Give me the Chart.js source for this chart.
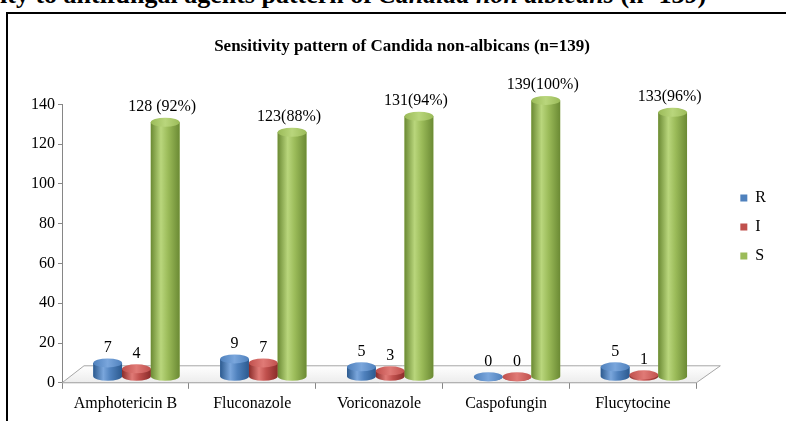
<!DOCTYPE html>
<html>
<head>
<meta charset="utf-8">
<script src="https://cdn.jsdelivr.net/npm/chart.js@4/dist/chart.umd.min.js"></script>
<style>
  html, body { margin:0; padding:0; background:#fff; width:786px; height:421px; overflow:hidden; position:relative; font-family:"Liberation Serif", serif; }
  #encabezado { position:absolute; left:0px; top:-18px; font-weight:bold; font-size:26px; line-height:26px; white-space:nowrap; color:#000; }
  #marco { position:absolute; left:6px; top:12px; width:820px; height:440px; border:2px solid #000; }
  #lienzo { position:absolute; left:0; top:0; }
</style>
</head>
<body>
<div id="encabezado">ity to antifungal agents pattern of <i>Candida non albicans</i> (n=139)</div>
<div id="marco"></div>
<canvas id="lienzo" width="786" height="421"></canvas>
<script>
  // datos
  const categorias = ["Amphotericin B", "Fluconazole", "Voriconazole", "Caspofungin", "Flucytocine"];
  const resistente = [7, 9, 5, 0, 5];
  const intermedio = [4, 7, 3, 0, 1];
  const sensible = [128, 123, 131, 139, 133];
  const etiquetasS = ["128 (92%)", "123(88%)", "131(94%)", "139(100%)", "133(96%)"];
  const ejeYMin = 0, ejeYMax = 140, ejeYPaso = 20;

  // colores: base, borde oscuro, brillo
  const tonos = [
    ["#4F81BD", "#2c5a8f", "#7aa6dc"],
    ["#C0504D", "#8a2c2a", "#e07a76"],
    ["#9BBB59", "#6b8a34", "#b9d67c"]
  ];

  const fondo = "#868686";
  const dx = 11, dy = -6, ry = 4.5;

  // hueco entre el grafico y la leyenda
  const espaciador = {
    id: "espaciador",
    beforeInit(chart) {
      const caja = {
        position: "right", weight: 500, fullSize: false, options: {},
        left: 0, top: 0, right: 0, bottom: 0, width: 0, height: 0,
        isHorizontal() { return false; },
        update(maxW, maxH) { this.width = 31; this.height = maxH; },
        draw() {}
      };
      Chart.layouts.addBox(chart, caja);
    }
  };

  const cilindros = {
    id: "cilindros",
    beforeDatasetsDraw(chart) {
      const ctx = chart.ctx, a = chart.chartArea;
      // piso en perspectiva
      ctx.save();
      ctx.beginPath();
      ctx.moveTo(a.left, a.bottom);
      ctx.lineTo(a.left + 22, a.bottom - 17);
      ctx.lineTo(a.right + 24, a.bottom - 17);
      ctx.lineTo(a.right, a.bottom);
      ctx.closePath();
      let gp = ctx.createLinearGradient(0, a.bottom - 17, 0, a.bottom);
      gp.addColorStop(0, "#ffffff");
      gp.addColorStop(1, "#ececec");
      ctx.fillStyle = gp;
      ctx.fill();
      ctx.strokeStyle = "#a6a6a6";
      ctx.lineWidth = 1;
      ctx.stroke();
      ctx.restore();
      ctx.save();
      ctx.translate(dx, dy);
    },
    afterDatasetsDraw(chart) {
      const ctx = chart.ctx;
      chart.data.datasets.forEach((ds, di) => {
        const meta = chart.getDatasetMeta(di);
        const t = tonos[di];
        meta.data.forEach((bar, i) => {
          const p = bar.getProps(["x", "y", "base", "width"], true);
          const rx = p.width / 2, l = p.x - rx, r = p.x + rx;
          const g = ctx.createLinearGradient(l, 0, r, 0);
          g.addColorStop(0, t[1]);
          g.addColorStop(0.35, t[2]);
          g.addColorStop(0.6, t[0]);
          g.addColorStop(1, t[1]);
          ctx.beginPath();
          ctx.moveTo(l, p.y);
          ctx.lineTo(l, p.base);
          ctx.ellipse(p.x, p.base, rx, ry, 0, Math.PI, 0, true);
          ctx.lineTo(r, p.y);
          ctx.closePath();
          ctx.fillStyle = g;
          ctx.fill();
          // tapa
          ctx.beginPath();
          ctx.ellipse(p.x, p.y, rx, ry, 0, 0, Math.PI * 2);
          const gt = ctx.createLinearGradient(l, 0, r, 0);
          gt.addColorStop(0, t[0]);
          gt.addColorStop(0.5, t[2]);
          gt.addColorStop(1, t[0]);
          ctx.fillStyle = gt;
          ctx.fill();
          // etiqueta
          ctx.fillStyle = "#000";
          ctx.font = "16px 'Liberation Serif'";
          ctx.textAlign = "center";
          ctx.textBaseline = "bottom";
          const txt = di === 2 ? etiquetasS[i] : String(ds.data[i]);
          ctx.fillText(txt, di === 2 ? p.x - 3 : p.x, p.y - ry - 3);
        });
      });
      ctx.restore();
    }
  };

  new Chart(document.getElementById("lienzo"), {
    type: "bar",
    data: {
      labels: categorias,
      datasets: [
        { label: "R", data: resistente, backgroundColor: tonos[0][0], categoryPercentage: 0.68, barPercentage: 1 },
        { label: "I", data: intermedio, backgroundColor: tonos[1][0], categoryPercentage: 0.68, barPercentage: 1 },
        { label: "S", data: sensible, backgroundColor: tonos[2][0], categoryPercentage: 0.68, barPercentage: 1 }
      ]
    },
    options: {
      responsive: false,
      animation: false,
      devicePixelRatio: 1,
      layout: { padding: { top: 36, left: 28, right: 10, bottom: 3 } },
      plugins: {
        title: {
          display: true,
          text: "Sensitivity pattern of Candida non-albicans (n=139)",
          color: "#000",
          font: { family: "Liberation Serif", size: 17, weight: "bold" },
          padding: { top: 0, bottom: 48 }
        },
        legend: {
          position: "right",
          labels: {
            color: "#000",
            boxWidth: 7,
            boxHeight: 7,
            padding: 13,
            font: { family: "Liberation Serif", size: 16 }
          }
        },
        tooltip: { enabled: false }
      },
      scales: {
        x: {
          grid: { drawOnChartArea: false, tickLength: 6, color: fondo, offset: true },
          border: { color: fondo },
          ticks: { color: "#000", padding: 5, maxRotation: 0, font: { family: "Liberation Serif", size: 16 } }
        },
        y: {
          min: ejeYMin,
          max: ejeYMax,
          grid: { drawOnChartArea: false, tickLength: 4, color: fondo },
          border: { color: fondo },
          ticks: { stepSize: ejeYPaso, color: "#000", padding: 3, font: { family: "Liberation Serif", size: 16 } }
        }
      }
    },
    plugins: [espaciador, cilindros]
  });
</script>
</body>
</html>
